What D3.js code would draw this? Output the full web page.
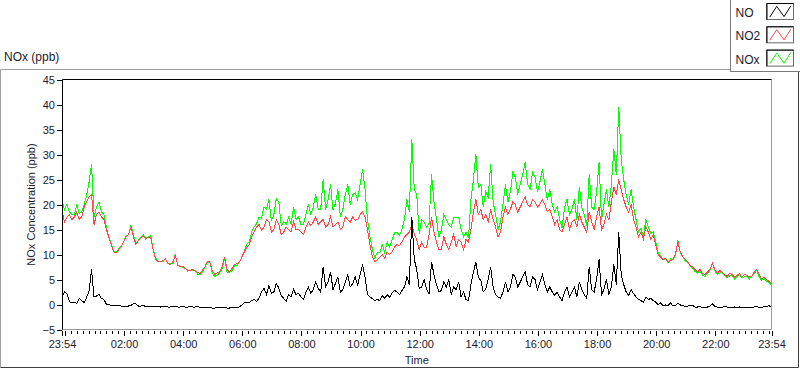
<!DOCTYPE html>
<html>
<head>
<meta charset="utf-8">
<script src="https://cdn.jsdelivr.net/npm/d3@7"></script>
<style>
  body { margin: 0; background: #fff; }
  svg { display: block; font-family: "Liberation Sans", Arial, sans-serif; }
  .tick text { fill: #1a1a2e; }
</style>
</head>
<body>
<svg id="chart" width="800" height="369"></svg>
<script>
// readings every 5 min starting 23:54
const stepMin = 5
const seriesNames = ['NO', 'NO2', 'NOx']
const seriesColors = ['#000000', '#ff4545', '#00ff00']
const yTicks = [-5, 0, 5, 10, 15, 20, 25, 30, 35, 40, 45]

const no2 = [
  19, 16.5, 17.5, 18, 17, 17.5, 18.5, 17, 17.5, 19.5, 20.5, 21.5, 22, 16, 18, 18.5, 17.5, 17, 15, 13.5,
  12, 10.5, 10.3, 11, 11.5, 12.5, 13.5, 14, 15.5, 13.5, 12, 12.8, 13.3, 13.8, 13, 13.5, 13.5, 11, 9, 8.6,
  8.5, 8.8, 9, 8.3, 8, 8.5, 9.8, 8, 7.5, 7.6, 7.2, 6.9, 6.8, 7, 6.7, 6.4, 6.2, 6.8, 7.5, 8.7,
  8.5, 6.8, 6, 6.3, 6.5, 7.5, 9.5, 7, 6.5, 7.2, 8, 8.2, 8.5, 9.5, 10.5, 11.5, 12, 13.5, 14.5, 15.5,
  16, 14.8, 15.5, 17, 16.5, 14.5, 15, 17, 16, 14, 14.5, 15.5, 15, 14.5, 16.5, 15, 15, 14.5, 14, 15.5,
  16.5, 15.8, 16.5, 17.5, 16, 16.5, 17, 15.5, 16, 17.5, 15.5, 16, 16.5, 15, 15.5, 17.5, 17, 16.5, 17.5, 16.8,
  17, 18, 18.5, 17.5, 15, 12, 9.5, 8.5, 9, 9.5, 10, 9.2, 10.5, 10, 10.5, 11.5, 12, 11.8, 12.5, 13.5,
  14, 14.5, 16, 14, 13, 11, 12.5, 11.5, 11.5, 14, 17.5, 14.5, 12.5, 11, 11, 13.5, 12, 11, 12.5, 14,
  11.5, 13, 12.5, 11, 13, 12.5, 15, 18.5, 21, 18, 19, 17, 18, 16.5, 19, 17, 15.5, 13.5, 14.5, 17.5,
  19.5, 18, 19, 20.5, 20, 18.5, 19.5, 20.5, 21.5, 20, 19.5, 21, 20.5, 19.5, 20, 21, 20, 18.5, 19, 17.5,
  16, 17, 15, 14.5, 16, 17.5, 15, 16.5, 17, 15.5, 18, 16.5, 15.5, 14.5, 18.5, 16.5, 15, 17.5, 19.5, 15,
  16, 18, 17, 20.5, 23.5, 22, 25, 23, 21, 19.5, 18.5, 20, 17, 15.5, 13.5, 14.5, 13, 15.5, 14.5, 13,
  14, 12, 10, 9.5, 9, 9.2, 8.5, 8.8, 9, 10, 12.5, 10.5, 9.5, 9, 8.5, 7.8, 7.5, 7, 6.5, 7,
  6.2, 6, 6.5, 7, 8.2, 7, 6.2, 6.8, 6.5, 6, 5.6, 6.2, 6, 5.5, 5.8, 6.2, 5.5, 6, 5.8, 5.5,
  5.7, 6.5, 7, 6, 5, 5.5, 5, 4.6, 4.3]
const nox = [
  21, 19, 20, 18.5, 18, 18, 20, 18.2, 18.5, 20, 21.8, 24.5, 28, 17.5, 19.5, 20.5, 18.5, 18, 15.5, 13.5,
  12.2, 10.6, 10.5, 11.1, 11.6, 12.5, 13.7, 14, 15.8, 13.9, 12.3, 12.8, 13.5, 13.9, 13.3, 13.5, 13.8, 11, 9.3, 8.7,
  8.7, 8.6, 9.2, 8.1, 8.2, 8.3, 10, 7.8, 7.7, 7.4, 7.3, 6.7, 6.9, 6.8, 6.8, 6.1, 6, 6.5, 7.4, 8.4,
  8.5, 6.3, 5.6, 5.9, 6.3, 7.2, 9.3, 6.5, 6.4, 6.8, 7.8, 7.8, 8.4, 9.5, 10.7, 12, 12.5, 14.5, 15.5, 16.2,
  17.5, 17.3, 19.5, 19, 21, 16.7, 18, 21.2, 20.5, 15.8, 16.5, 16.1, 17.5, 16, 19.5, 17, 17.5, 16, 16, 18,
  20, 18, 19.5, 22, 19, 19, 25, 19, 21, 24, 19, 20.2, 23, 17.5, 19, 22, 24, 20, 22, 22.3,
  21, 24, 27, 23, 17, 13.5, 11, 9.3, 10.5, 10.3, 12, 10.4, 12.5, 11.5, 13, 14.3, 14.5, 13.8, 15, 17,
  21, 18.5, 33, 23, 22, 14.2, 17, 16.5, 15.5, 16.2, 26, 20.5, 17, 13.5, 15, 18, 17, 16, 15.5, 17.5,
  17.5, 17.5, 15, 13.5, 14.5, 13.3, 21, 25, 30, 23.5, 24, 19.5, 22.5, 21.5, 28, 20.5, 18, 15, 16.5, 20,
  24, 20.5, 22.5, 26.5, 25.5, 22, 24, 26, 28.5, 24, 23, 26.5, 25.5, 22.5, 24.5, 27, 24, 21, 23, 20,
  18.5, 19.5, 17, 15.3, 19.5, 21, 18, 19, 21, 17, 23.5, 19.5, 18, 15.7, 26, 19.5, 19, 22.5, 28.5, 17,
  20, 23, 19.5, 24, 31, 26, 39.5, 29, 25, 22, 20, 23, 19.5, 17, 14.5, 15.3, 13.5, 17, 15.5, 14.2,
  14.5, 12.5, 10.3, 9.8, 9, 9.1, 8.4, 9.1, 9, 9.8, 12.8, 10.4, 9.5, 8.7, 8.4, 7.7, 7.3, 6.6, 6.3, 6.7,
  5.9, 5.6, 6.3, 6.8, 8.3, 6.7, 6, 6.3, 6.4, 5.8, 5.4, 5.7, 5.8, 5.1, 5.6, 5.8, 5.3, 5.5, 5.6, 5.1,
  5.6, 6.1, 7, 5.5, 4.8, 5.2, 4.7, 4.4, 3.9]
const no = [
  1.5, 2.5, 2.2, 0.6, 0.3, 0.5, 0.2, 1.2, 0.8, 0.4, 1.4, 2.8, 7, 1.5, 1.7, 2, 1.2, 1, 0.1, 0,
  -0.2, -0.1, -0.3, -0.2, -0.3, -0.3, -0.4, -0.3, -0.2, 0.2, 0.1, -0.3, -0.3, -0.2, -0.4, -0.3, -0.4, -0.4, -0.4, -0.3,
  -0.5, -0.4, -0.4, -0.5, -0.5, -0.3, -0.4, -0.5, -0.5, -0.4, -0.5, -0.5, -0.4, -0.5, -0.5, -0.4, -0.6, -0.5, -0.5, -0.6,
  -0.6, -0.7, -0.7, -0.6, -0.6, -0.5, -0.6, -0.7, -0.7, -0.6, -0.6, -0.6, -0.5, -0.1, 0.3, 0.5, 0.4, 0.8, 1, 0.6,
  1.3, 2.5, 3.2, 2, 3.8, 2.2, 2.5, 4.2, 3.3, 1.8, 1.2, 0.6, 2, 1.5, 3, 2, 2.2, 1.5, 1, 2.5,
  3.5, 2.2, 3, 4.5, 3.2, 2.5, 7.5, 3.5, 4.5, 6.5, 3, 4.2, 5.5, 2.5, 3, 4.5, 6, 3.5, 4.2, 5.5,
  3.8, 6, 8, 5.5, 2, 1.5, 1.2, 0.8, 1, 0.8, 1.8, 1.2, 2, 1.5, 2.3, 2.8, 2.5, 2, 2.8, 3.5,
  5.5, 4, 17.5, 9, 7, 3.2, 3.5, 5, 3, 2.2, 8.5, 6, 4, 2.5, 2.8, 4.5, 3.5, 5, 2, 3.5,
  3, 4.5, 1.5, 2.5, 1, 0.8, 4, 6.5, 8.5, 5.5, 4.8, 2.5, 3, 5, 7.5, 3.5, 2, 1.5, 1.2, 2.5,
  4.5, 2.5, 3.5, 6, 5.5, 3.5, 4.5, 5.5, 6.5, 4, 3.5, 5.5, 5, 3, 4.5, 6, 4, 2.5, 3.5, 2.5,
  1.8, 2.5, 1.5, 0.8, 2.5, 3.5, 1.5, 2.5, 3.5, 1.5, 4.5, 3, 2, 1.2, 7.5, 3, 2.5, 5, 9, 2,
  3, 5, 2, 3.5, 8, 4, 14.5, 6, 4, 2.5, 1.8, 3, 2.2, 1.5, 1, 0.8, 0.4, 1.5, 1, 1.2,
  0.8, 0.5, 0, 0.3, -0.3, -0.1, -0.2, 0.3, -0.3, -0.2, 0.3, -0.1, -0.2, -0.4, -0.3, -0.1, -0.2, -0.5, -0.5, -0.4,
  -0.6, -0.5, -0.5, -0.3, 0.1, -0.4, -0.5, -0.6, -0.6, -0.3, -0.5, -0.6, -0.6, -0.5, -0.6, -0.5, -0.6, -0.6, -0.5, -0.6,
  -0.6, -0.5, -0.3, -0.6, -0.6, -0.4, -0.5, -0.2, -0.6]

const t0 = new Date(2020, 0, 1, 23, 54)
const t1 = d3.timeHour.offset(t0, 24)
const times = no.map((d, i) => d3.timeMinute.offset(t0, i * stepMin))

const svg = d3.select('#chart')
const plot = { left: 62, right: 771.5, top: 79.5, bottom: 329.5 }

const x = d3.scaleTime().domain([t0, t1]).range([plot.left, plot.right])
const y = d3.scaleLinear().domain([-5, 45]).range([plot.bottom, plot.top])

// outer frame
svg.append('path')
  .attr('d', 'M0.5,367.5 V69.5 H731')
  .attr('fill', 'none').attr('stroke', '#a0a0a0')
svg.append('path')
  .attr('d', 'M0.5,367.5 H798.5 V72')
  .attr('fill', 'none').attr('stroke', '#404040')

svg.append('text')
  .attr('x', 4).attr('y', 61)
  .attr('font-size', 12).attr('fill', '#1a1a2e')
  .text('NOx (ppb)')

// plot area
svg.append('rect')
  .attr('x', plot.left).attr('y', plot.top)
  .attr('width', plot.right - plot.left).attr('height', plot.bottom - plot.top)
  .attr('fill', '#fff')
svg.append('path')
  .attr('d', `M${plot.right},${plot.top} V${plot.bottom} H${plot.left}`)
  .attr('fill', 'none').attr('stroke', '#9a9a9a')
svg.append('path')
  .attr('d', `M${plot.left + 0.5},${plot.bottom} V${plot.top} H${plot.right}`)
  .attr('fill', 'none').attr('stroke', '#000')

svg.append('defs').append('clipPath').attr('id', 'clip')
  .append('rect')
  .attr('x', plot.left + 1).attr('y', plot.top + 0.5)
  .attr('width', plot.right - plot.left - 1.5).attr('height', plot.bottom - plot.top - 1)

// y axis
const yAxis = svg.append('g')
  .attr('transform', `translate(${plot.left},0)`)
  .call(d3.axisLeft(y).tickValues(yTicks).tickSize(5).tickPadding(2))
yAxis.select('.domain').remove()
yAxis.selectAll('line').attr('stroke', '#000')
yAxis.selectAll('text').attr('font-size', 11).attr('font-family', null)

// x axis: minor every 12 min, major every 2 h
const minorTicks = [t0].concat(d3.timeMinute.every(12).range(t0, t1), [t1])
const majorTicks = [t0].concat(d3.timeHour.every(2).range(t0, t1), [t1])
const fmt = d3.timeFormat('%H:%M')

const xMinor = svg.append('g')
  .attr('transform', `translate(0,${plot.bottom + 1.5})`)
  .call(d3.axisBottom(x).tickValues(minorTicks).tickSize(3).tickFormat(''))
xMinor.select('.domain').remove()

const xMajor = svg.append('g')
  .attr('transform', `translate(0,${plot.bottom + 1.5})`)
  .call(d3.axisBottom(x).tickValues(majorTicks).tickSize(5).tickPadding(4)
    .tickFormat(d => (+d === +t0 || +d === +t1 || d.getHours() % 2 === 0 && d.getHours() !== 0) ? fmt(d) : ''))
xMajor.select('.domain').remove()
xMajor.selectAll('text').attr('font-size', 11).attr('font-family', null)
svg.selectAll('.tick line').attr('shape-rendering', 'crispEdges')

// axis titles
svg.append('text')
  .attr('x', (plot.left + plot.right) / 2).attr('y', 364)
  .attr('text-anchor', 'middle').attr('font-size', 11).attr('fill', '#1a1a2e')
  .text('Time')
svg.append('text')
  .attr('transform', `translate(35,${(plot.top + plot.bottom) / 2}) rotate(-90)`)
  .attr('text-anchor', 'middle').attr('font-size', 11).attr('fill', '#1a1a2e')
  .text('NOx Concentration (ppb)')

// series (NOx underneath, NO on top)
const line = d3.line()
  .x((d, i) => x(times[i]))
  .y(d => y(d))
const lines = svg.append('g').attr('clip-path', 'url(#clip)')
;[[nox, 2], [no2, 1], [no, 0]].forEach(([data, k]) => {
  lines.append('path')
    .datum(data)
    .attr('d', line)
    .attr('fill', 'none')
    .attr('stroke', seriesColors[k])
    .attr('stroke-width', 1)
    .attr('shape-rendering', 'crispEdges')
})

// legend
const lg = svg.append('g').attr('transform', 'translate(730.5,0)')
lg.append('rect').attr('x', 0).attr('y', -1).attr('width', 80).attr('height', 72.5)
  .attr('fill', '#fff').attr('stroke', '#7a7a7a')
seriesNames.forEach((name, i) => {
  const g = lg.append('g').attr('transform', `translate(0,${i * 23.3})`)
  g.append('text').attr('x', 5).attr('y', 17).attr('font-size', 12).attr('fill', '#1a1a2e').text(name)
  g.append('rect').attr('x', 36).attr('y', 3.5).attr('width', 27).attr('height', 16)
    .attr('fill', '#fff').attr('stroke', '#6a6a6a')
  g.append('path').attr('d', 'M36.5,3.5 H63 M36.5,3.5 V19.5').attr('stroke', '#000')
  const zig = [[0.12, 0.85], [0.38, 0.18], [0.65, 0.82], [0.9, 0.15]]
  g.append('path')
    .attr('d', d3.line()(zig.map(p => [36 + p[0] * 27, 3.5 + p[1] * 16])))
    .attr('fill', 'none').attr('stroke', seriesColors[i])
})
</script>
</body>
</html>
